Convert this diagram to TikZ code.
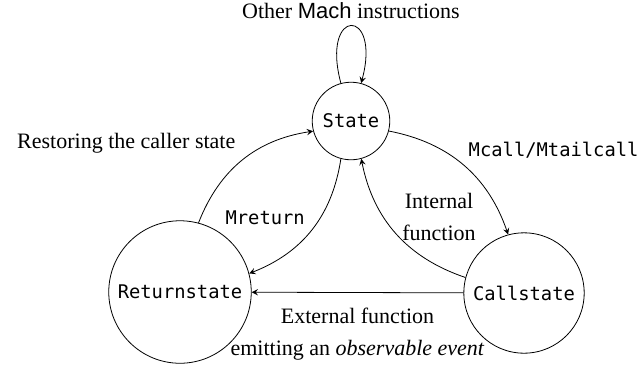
\documentclass[tikz,border=0pt]{standalone}
\usepackage{fontspec}
\setmainfont{Liberation Serif}
\setsansfont{Liberation Sans}
\setmonofont{DejaVu Sans Mono}

\begin{document}
\begin{tikzpicture}[x=0.5pt,y=0.5pt,
  font=\fontsize{11}{16}\selectfont,
  mono/.style={font=\fontsize{9.4}{11}\selectfont\ttfamily},
  mstate/.style={circle,draw,inner sep=3.8pt,mono},
  trans/.style={-stealth}]
\useasboundingbox (0,0) rectangle (641,-365);
%states
\node[mstate] (st) at (351,-121) {State};
\node[mstate] (ret) at (180,-292) {Returnstate};
\node[mstate] (call) at (524,-293) {Callstate};
%self loop
\draw[trans] (st) to[loop above,looseness=10] node[above] {Other \textsf{Mach} instructions} (st);
%calls and returns
\draw[trans] (st) to[bend left] node[midway,above right,mono,xshift=-1pt] {Mcall/Mtailcall} (call);
\draw[trans] (call) to[bend left] node[pos=0.45,right,align=center,xshift=-3pt,yshift=11pt] {Internal\\function} (st);
\draw[trans] (st) to[bend left] node[midway,left,mono,yshift=6pt] {Mreturn} (ret);
\draw[trans] (ret) to[bend left] node[midway,above left] {Restoring the caller state} (st);
\draw[trans] (call) -- node[below=4pt,align=center] {External function\\emitting an \emph{observable event}} (ret);
\end{tikzpicture}
\end{document}
